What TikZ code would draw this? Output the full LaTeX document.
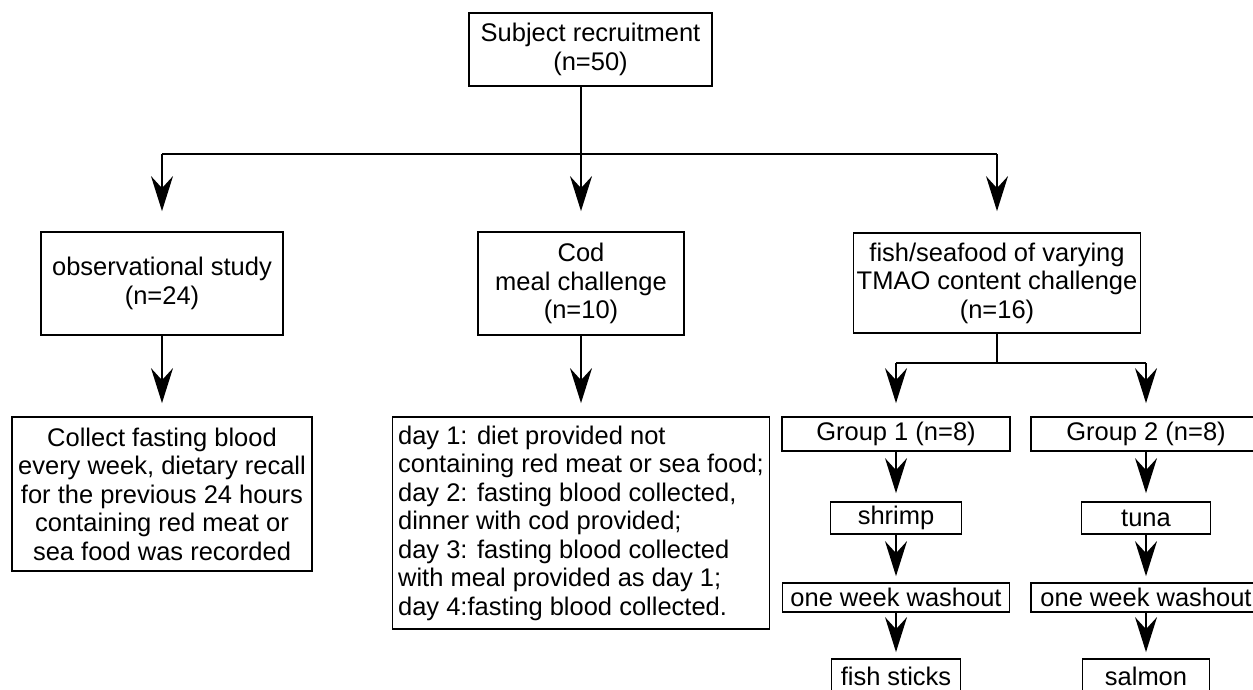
\documentclass[tikz,border=0pt]{standalone}
\usepackage{fontspec}
\setmainfont{Liberation Sans}
\usetikzlibrary{arrows.meta}
\begin{document}
\begin{tikzpicture}[x=1pt,y=-1pt,
  box/.style={draw, line width=1.8pt, align=center, inner sep=0pt,
    font=\fontsize{25.5}{28.5}\selectfont},
  conn/.style={line width=1.8pt},
  arr/.style={line width=1.8pt, -{Stealth[length=35pt,width=22pt,inset=12pt]}}]
\useasboundingbox (0,0) rectangle (1253,689);
\fill[white] (0,0) rectangle (1253,689);
\begin{scope}
\clip (0,0) rectangle (1253,689);
% nodes
\node[box, minimum width=243pt, minimum height=73pt] (top) at (590.5,49.5) {Subject recruitment\\(n=50)};
\coordinate (hL) at (162,154);
\coordinate (hM) at (581,154);
\coordinate (hR) at (997,154);
\node[box, minimum width=242pt, minimum height=103pt] (obs) at (162,283.5) {observational study\\(n=24)};
\node[box, minimum width=206pt, minimum height=103pt] (cod) at (581,283.5) {Cod\\meal challenge\\(n=10)};
\node[box, minimum width=287pt, minimum height=100pt] (fish) at (997,283) {fish/seafood of varying\\TMAO content challenge\\(n=16)};
\node[box, minimum width=300pt, minimum height=154pt] (collect) at (162,494) {Collect fasting blood\\every week, dietary recall\\for the previous 24 hours\\containing red meat or\\sea food was recorded};
\node[box, align=left, minimum width=377pt, minimum height=212pt] (day) at (581,523) {day 1: diet provided not\\containing red meat or sea food;\\day 2: fasting blood collected,\\dinner with cod provided;\\day 3: fasting blood collected\\with meal provided as day 1;\\day 4:fasting blood collected.};
\coordinate (sM) at (997,363);
\coordinate (sL) at (896,363);
\coordinate (sR) at (1146,363);
\node[box, minimum width=228pt, minimum height=34pt] (g1) at (896,434) {Group 1 (n=8)};
\node[box, minimum width=230pt, minimum height=34pt] (g2) at (1146,434) {Group 2 (n=8)};
\node[box, minimum width=131pt, minimum height=32pt] (shrimp) at (896,518) {shrimp};
\node[box, minimum width=129pt, minimum height=32pt] (tuna) at (1146,518) {tuna};
\node[box, minimum width=227pt, minimum height=29pt] (wash1) at (896,597.5) {one week washout};
\node[box, minimum width=230pt, minimum height=29pt] (wash2) at (1146,597.5) {one week washout};
\node[box, minimum width=129pt, minimum height=34pt] (sticks) at (896,676) {fish sticks};
\node[box, minimum width=127pt, minimum height=34pt] (salmon) at (1146,676) {salmon};
% connectors
\draw[conn] (top.south -| hM) -- (hM);
\draw[conn] (hL) -- (hR);
\draw[arr, shorten >=20pt] (hL) -- (obs.north);
\draw[arr, shorten >=20pt] (hM) -- (cod.north);
\draw[arr, shorten >=21pt] (hR) -- (fish.north);
\draw[arr, shorten >=13pt] (obs) -- (collect);
\draw[arr, shorten >=13pt] (cod.south) -- (day.north);
\draw[conn] (fish.south) -- (sM);
\draw[conn] (sL) -- (sR);
\draw[arr, shorten >=13pt] (sL) -- (g1.north);
\draw[arr, shorten >=13pt] (sR) -- (g2.north);
\draw[arr, shorten >=8pt] (g1) -- (shrimp);
\draw[arr, shorten >=8pt] (g2) -- (tuna);
\draw[arr, shorten >=6pt] (shrimp) -- (wash1);
\draw[arr, shorten >=6pt] (tuna) -- (wash2);
\draw[arr, shorten >=6pt] (wash1) -- (sticks);
\draw[arr, shorten >=6pt] (wash2) -- (salmon);
\end{scope}
\end{tikzpicture}
\end{document}
